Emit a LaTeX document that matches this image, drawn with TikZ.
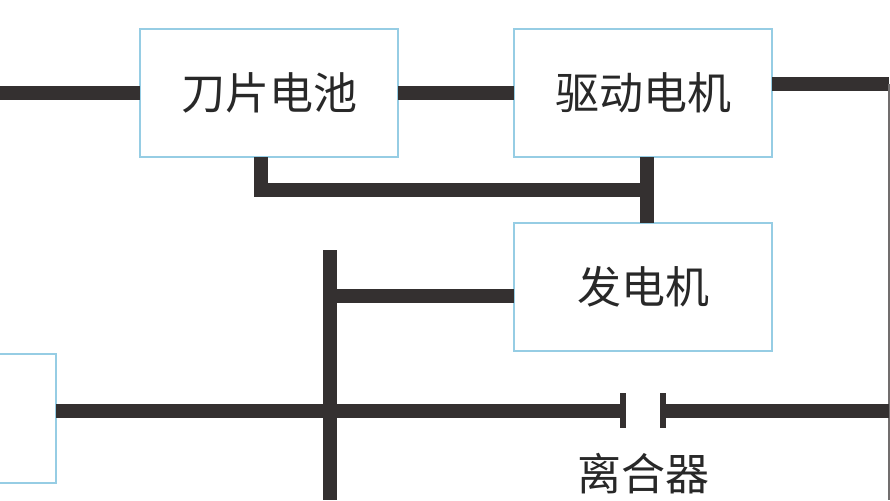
\documentclass[tikz,border=0pt]{standalone}
\usepackage{fontspec}
\newfontfamily\cjk{Noto Sans CJK SC}
\usetikzlibrary{positioning}
\definecolor{boxblue}{RGB}{150,205,228}
\definecolor{linegray}{RGB}{52,48,48}
\definecolor{textgray}{RGB}{40,40,40}
\tikzset{
    x=1pt, y=-1pt, % one unit is one pixel of the picture, y runs downwards
    node distance=116pt, % gap between neighbouring blocks
    block/.style={draw=boxblue, line width=1.2pt, fill=white, minimum width=258pt, minimum height=128pt, inner sep=0pt, outer sep=0pt, text=textgray, font=\cjk\fontsize{44}{52}\selectfont}, % every unit box
    link/.style={draw=linegray, line width=14pt}, % thick connecting shafts
    plate/.style={draw=linegray, line width=6pt}, % clutch plates
}

\begin{document}
\begin{tikzpicture}
    \useasboundingbox (0,0) rectangle (890,500);

    \node[block] (batt) at (269,93) {刀片电池};
    \node[block, right=of batt] (drive) {驱动电机};
    \node[block, below=66pt of drive] (gen) {发电机};
    \node[block, minimum width=120pt, minimum height=129pt, anchor=east] (engine) at (56,418.5) {};

    \coordinate (lft) at (0,93);
    \coordinate (bus) at (647,190);
    \coordinate (rgt) at (889,84);
    \coordinate (rgtB) at (889,500);
    \coordinate (shaftT) at (330,250);
    \coordinate (shaftB) at (330,500);
    \coordinate (shaftG) at (330,296);
    \coordinate (clL) at (623,411);
    \coordinate (clR) at (663,411);
    \coordinate (endR) at (889,411);

    \draw[link] (lft) -- (batt.west);
    \draw[link] (batt) -- (drive);
    \draw[link] ([xshift=-8pt]batt.south) |- (bus);
    \draw[link] ([xshift=4pt]drive.south) -- ([xshift=4pt]gen.north);
    \draw[link] ([yshift=9pt]drive.east) -- (rgt);
    \draw[linegray!70, line width=2pt] (rgt) -- (rgtB);

    \draw[link] (shaftT) -- (shaftB);
    \draw[link] (shaftG) -- (gen.west |- shaftG);
    \draw[link] ([yshift=7.5pt]engine.east) -- (clL);
    \draw[link] (clR) -- (endR);
    \draw[plate] (623,393) -- (623,428);
    \draw[plate] (663,393) -- (663,428);

    \node[text=textgray, font=\cjk\fontsize{44}{52}\selectfont] (clutch) at (643,474) {离合器};
\end{tikzpicture}
\end{document}
